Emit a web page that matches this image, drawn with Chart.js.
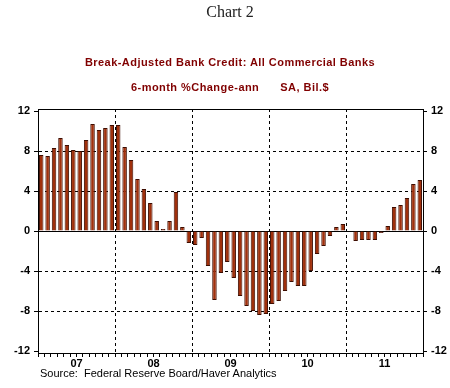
<!DOCTYPE html>
<html>
<head>
<meta charset="utf-8">
<script src="https://cdn.jsdelivr.net/npm/chart.js@4.4.0/dist/chart.umd.min.js"></script>
<style>
  body { margin: 0; background: #fff; }
  #wrap { position: relative; width: 450px; height: 388px; overflow: hidden; }
  #chart { position: absolute; left: 0; top: 0; }
  .txt { position: absolute; left: 0; width: 460px; text-align: center; white-space: pre; }
  #head { top: 3px; font: 16px "Liberation Serif", serif; color: #222; }
  .sub { font: bold 11px "Liberation Sans", Arial, sans-serif; color: #800000; letter-spacing: 0.45px; }
  #sub1 { top: 56px; }
  #sub2 { top: 81px; }
  #src { position: absolute; left: 40px; top: 367px; font: 11px "Liberation Sans", Arial, sans-serif; color: #000; white-space: pre; }
</style>
</head>
<body>
<div id="wrap">
  <canvas id="chart" width="450" height="388"></canvas>
  <div class="txt" id="head">Chart 2</div>
  <div class="txt sub" id="sub1">Break-Adjusted Bank Credit: All Commercial Banks</div>
  <div class="txt sub" id="sub2">6-month %Change-ann      SA, Bil.$</div>
  <div id="src">Source:  Federal Reserve Board/Haver Analytics</div>
</div>
<script>
// monthly, Jan 2007 - Dec 2011
var years = ["07", "08", "09", "10", "11"];
var yTicks = [-12, -8, -4, 0, 4, 8, 12];

var credit07 = [7.6, 7.5, 8.3, 9.3, 8.6, 8.1, 8.0, 9.1, 10.7, 10.1, 10.3, 10.6];
var credit08 = [10.6, 8.4, 7.1, 5.2, 4.2, 2.8, 1.0, 0.2, 1.0, 3.9, 0.4, -1.2];
var credit09 = [-1.4, -0.7, -3.5, -6.9, -4.2, -3.1, -4.7, -6.5, -7.5, -8.0, -8.4, -8.3];
var credit10 = [-7.3, -7.0, -6.0, -5.1, -5.5, -5.5, -4.0, -2.3, -1.5, -0.5, 0.4, 0.7];
var credit11 = [0.0, -1.0, -0.9, -0.9, -0.9, -0.2, 0.5, 2.4, 2.6, 3.3, 4.7, 5.1];

var values = credit07.concat(credit08, credit09, credit10, credit11);
var labels = [];
years.forEach(function(y) {
    for (var m = 1; m <= 12; m++) labels.push(y + "-" + m);
});

var tickFont = { family: "Liberation Sans", size: 11, weight: "bold" };

function setTicks(scale) {
    scale.ticks = yTicks.map(function(v) { return { value: v }; });
}

var frame = {
    id: "frame",
    afterDraw: function(chart) {
        var a = chart.chartArea, ctx = chart.ctx;
        ctx.save();
        ctx.strokeStyle = "#000";
        ctx.lineWidth = 1;
        ctx.beginPath();
        ctx.moveTo(a.left, a.top + 0.5);
        ctx.lineTo(a.right, a.top + 0.5);
        ctx.stroke();
        ctx.restore();
    }
};

new Chart(document.getElementById("chart"), {
    type: "bar",
    data: {
        labels: labels,
        datasets: [{
            data: values,
            backgroundColor: "#a0300c",
            borderColor: "#3d0c00",
            borderWidth: 1,
            barPercentage: 0.7,
            categoryPercentage: 1.0
        }]
    },
    plugins: [frame],
    options: {
        responsive: false,
        animation: false,
        devicePixelRatio: 1,
        layout: { padding: { top: 109, left: 0, right: 0, bottom: 0 } },
        plugins: { legend: { display: false }, tooltip: { enabled: false } },
        scales: {
            x: {
                afterFit: function(s) { s.height = 35; },
                grid: {
                    offset: true,
                    color: function(c) { return (c.type === "tick" && c.index % 12 === 0) ? "#000" : "rgba(0,0,0,0)"; },
                    tickColor: "#000",
                    tickLength: 4
                },
                border: {
                    color: "#000",
                    dash: function(c) { return c.type === "tick" ? [3, 3] : []; }
                },
                ticks: {
                    autoSkip: false,
                    maxRotation: 0,
                    padding: 0,
                    labelOffset: -3.2,
                    color: "#000",
                    font: tickFont,
                    callback: function(v, i) { return i % 12 === 6 ? years[Math.floor(i / 12)] : ""; }
                }
            },
            y: {
                position: "left",
                min: -12.2,
                max: 12.2,
                afterBuildTicks: setTicks,
                afterFit: function(s) { s.width = 38; },
                grid: {
                    color: function(c) {
                        if (c.type !== "tick") return "#000";
                        return Math.abs(c.tick.value) === 12 ? "rgba(0,0,0,0)" : "#000";
                    },
                    tickColor: "#000",
                    tickLength: 4
                },
                border: {
                    color: "#000",
                    dash: function(c) { return (c.type === "tick" && c.tick.value !== 0) ? [3, 3] : []; }
                },
                ticks: { color: "#000", font: tickFont, padding: 4 }
            },
            y2: {
                position: "right",
                min: -12.2,
                max: 12.2,
                afterBuildTicks: setTicks,
                afterFit: function(s) { s.width = 27; },
                grid: { drawOnChartArea: false, tickColor: "#000", tickLength: 4 },
                border: { color: "#000" },
                ticks: { color: "#000", font: tickFont, padding: 4 }
            }
        }
    }
});
</script>
</body>
</html>
